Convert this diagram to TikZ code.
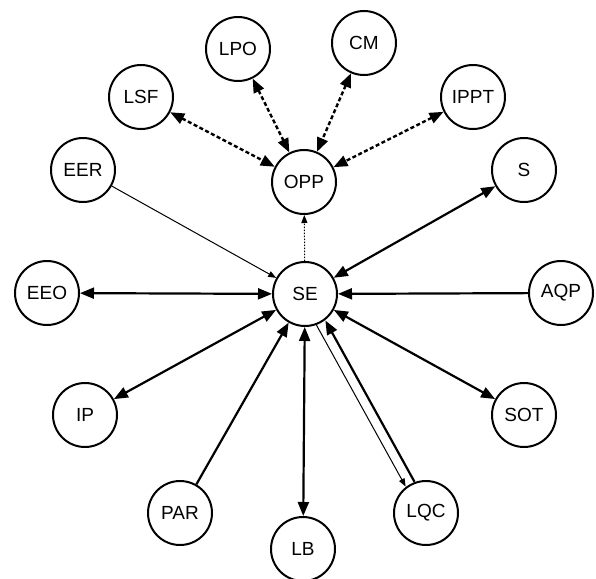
\documentclass[tikz,border=0pt]{standalone}
\usepackage{fontspec}
\setmainfont{Liberation Sans}
\usetikzlibrary{arrows.meta}
\tikzset{
  BigTri/.tip={Triangle[length=14pt,width=11pt]},
  SmallTri/.tip={Triangle[length=8pt,width=6pt]},
  nd/.style={circle, draw, line width=2pt, minimum size=64pt, inner sep=0pt,
    font=\fontsize{19}{21}\selectfont},
  thk/.style={line width=2.2pt},
  thn/.style={line width=1pt},
  dsh/.style={line width=2.4pt, dash pattern=on 4pt off 2.5pt, BigTri-BigTri},
  dtt/.style={line width=1pt, dash pattern=on 1.5pt off 1.5pt, -SmallTri},
}
\begin{document}
\begin{tikzpicture}[x=1pt,y=-1pt]
\useasboundingbox[fill=white] (0,0) rectangle (596,578);
\node[nd] (SE) at (305,294) {SE};
\node[nd] (OPP) at (304,182) {OPP};
\node[nd] (LPO) at (238,49) {LPO};
\node[nd] (CM) at (364,43) {CM};
\node[nd] (LSF) at (141,97) {LSF};
\node[nd] (IPPT) at (473,97) {IPPT};
\node[nd] (EER) at (83,170) {EER};
\node[nd] (S) at (524,170) {S};
\node[nd] (EEO) at (47,293) {EEO};
\node[nd] (AQP) at (561,293) {AQP};
\node[nd] (IP) at (85,415) {IP};
\node[nd] (SOT) at (524,415) {SOT};
\node[nd] (PAR) at (180,513) {PAR};
\node[nd] (LB) at (303,549) {LB};
\node[nd] (LQC) at (426,513) {LQC};

\draw[dsh] (LSF) -- (OPP);
\draw[dsh] (LPO) -- (OPP);
\draw[dsh] (CM) -- (OPP);
\draw[dsh] (IPPT) -- (OPP);
\draw[dtt] (SE) -- (OPP);

\draw[thn,-SmallTri] (EER) -- (SE);
\draw[thk,BigTri-BigTri] (S) -- (SE);
\draw[thk,BigTri-BigTri] (EEO) -- (SE);
\draw[thk,-BigTri] (AQP) -- (SE);
\draw[thk,BigTri-BigTri] (IP) -- (SE);
\draw[thk,BigTri-BigTri] (SOT) -- (SE);
\draw[thk,-BigTri] (PAR) -- (SE);
\draw[thk,BigTri-BigTri] (LB) -- (SE);
\draw[thk,-BigTri,transform canvas={xshift=4.4pt,yshift=2.4pt}] (LQC) -- (SE);
\draw[thn,-SmallTri,transform canvas={xshift=-4.4pt,yshift=-2.4pt}] (SE) -- (LQC);
\end{tikzpicture}
\end{document}
